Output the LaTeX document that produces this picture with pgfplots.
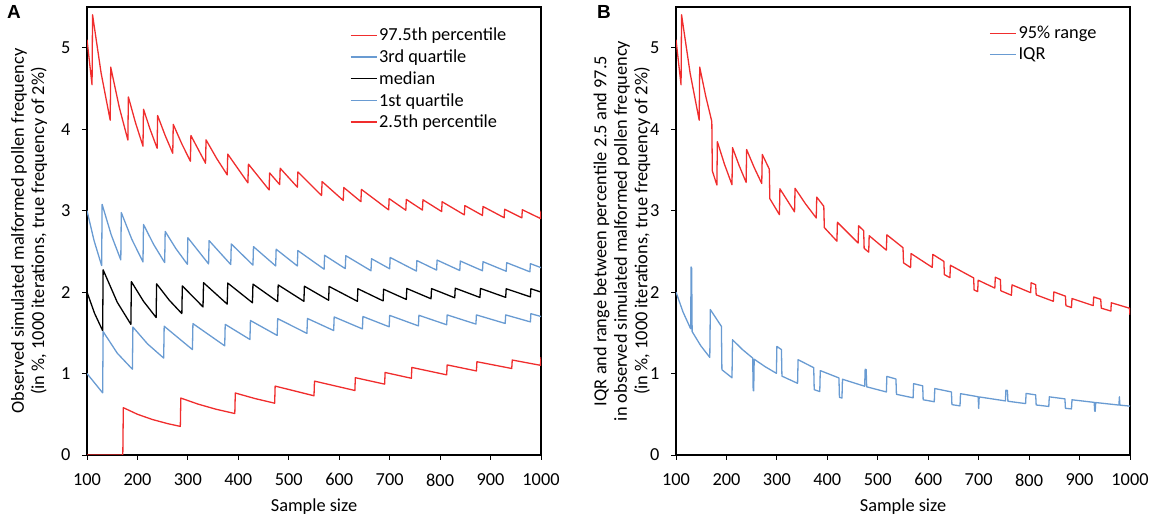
\documentclass[border=0pt]{standalone}
\usepackage{fontspec}
\setmainfont{Carlito}
\newfontfamily\arialfont{Liberation Sans}
\usepackage{pgfplots}
\pgfplotsset{compat=1.18}
\definecolor{myred}{RGB}{240,45,45}
\definecolor{myblue}{RGB}{105,155,210}
\newcommand{\fs}{\fontsize{18.4}{20.5}\selectfont}
\pgfplotsset{
  panel/.style={
    scale only axis, width=454bp, height=448bp,
    xmin=100, xmax=1000, ymin=0, ymax=5.5,
    xtick={100,200,...,1000}, ytick={0,1,2,3,4,5},
    tick align=outside, xtick pos=bottom, ytick pos=left,
    major tick length=5bp,
    tick style={black, line width=1bp},
    axis line style={black, line width=1.3bp},
    tick label style={font=\fs},
    xticklabel style={yshift=-10bp},
    yticklabel style={xshift=-8bp},
    label style={font=\fs},
    xlabel style={at={(axis description cs:0.5,-0.116)}, anchor=center},
    /pgf/number format/assume math mode=true,
    /pgf/number format/1000 sep={},
    xlabel={Sample size},
    legend style={draw=none, fill=none, font=\fs, anchor=north west, row sep=3.5bp, legend cell align=left},
    legend image code/.code={\draw[##1] (0bp,0bp) -- (26bp,0bp);},
    every axis plot/.append style={line width=1.3bp, line join=round},
  }
}
\begin{document}
\begin{tikzpicture}
\useasboundingbox (0,0) rectangle (1154bp,521bp);
\node[font=\arialfont\bfseries\fontsize{19}{20}\selectfont] at (14bp,509bp) {A};
\node[font=\arialfont\bfseries\fontsize{19}{20}\selectfont] at (604bp,509bp) {B};
\begin{axis}[panel, at={(87bp,66bp)}, anchor=south west,
  ylabel={Observed simulated malformed pollen frequency\\(in \%, 1000 iterations, true frequency of 2\%)},
  ylabel style={align=center, at={(axis description cs:-0.08,0.5)}, anchor=south},
  legend style={at={(0.572,0.962)}}]
\addplot[myred] coordinates {(100,5.1) (110,4.545) (111,5.405) (128,4.688) (146,4.110) (147,4.762) (164,4.268) (181,3.867) (182,4.396) (196,4.082) (211,3.791) (212,4.245) (225,4.000) (239,3.766) (240,4.167) (255,3.922) (270,3.704) (271,4.059) (288,3.819) (305,3.607) (306,3.922) (335,3.582) (336,3.869) (357,3.641) (378,3.439) (379,3.694) (419,3.341) (420,3.571) (461,3.254) (462,3.463) (482,3.320) (483,3.520) (517,3.288) (518,3.475) (565,3.186) (566,3.357) (608,3.125) (609,3.284) (643,3.110) (644,3.261) (698,3.009) (699,3.147) (732,3.005) (733,3.138) (765,3.007) (766,3.133) (803,2.989) (804,3.109) (848,2.948) (849,3.062) (884,2.941) (885,3.051) (927,2.913) (928,3.017) (962,2.911) (963,3.011) (999,2.903) (1000,3.0)};
\addlegendentry{97.5th percentile}
\addplot[myblue] coordinates {(100,3.000) (114,2.632) (129,2.326) (130,3.077) (148,2.703) (167,2.395) (168,2.976) (189,2.646) (211,2.370) (212,2.830) (232,2.586) (254,2.362) (255,2.745) (276,2.536) (299,2.341) (300,2.667) (341,2.346) (342,2.632) (385,2.338) (386,2.591) (429,2.331) (430,2.558) (474,2.321) (475,2.526) (517,2.321) (518,2.510) (570,2.281) (571,2.452) (612,2.288) (613,2.447) (663,2.262) (664,2.410) (700,2.286) (701,2.425) (753,2.258) (754,2.387) (793,2.270) (794,2.393) (839,2.265) (840,2.381) (884,2.262) (885,2.373) (931,2.256) (932,2.361) (978,2.249) (979,2.349) (1000,2.300)};
\addlegendentry{3rd quartile}
\addplot[black] coordinates {(100,2.000) (115,1.739) (131,1.527) (132,2.273) (160,1.875) (187,1.604) (188,2.128) (212,1.887) (237,1.688) (238,2.101) (263,1.901) (288,1.736) (289,2.076) (330,1.818) (331,2.115) (378,1.852) (379,2.111) (428,1.869) (429,2.098) (478,1.883) (479,2.088) (530,1.887) (531,2.072) (579,1.900) (580,2.069) (636,1.887) (637,2.041) (687,1.892) (688,2.035) (733,1.910) (734,2.044) (782,1.918) (783,2.043) (829,1.930) (830,2.048) (879,1.934) (880,2.045) (930,1.935) (931,2.041) (979,1.941) (980,2.041) (1000,2.000)};
\addlegendentry{median}
\addplot[myblue] coordinates {(100,1.000) (131,0.763) (132,1.515) (160,1.250) (190,1.053) (191,1.571) (220,1.364) (252,1.190) (253,1.581) (309,1.294) (310,1.613) (373,1.340) (374,1.604) (423,1.418) (424,1.651) (477,1.468) (478,1.674) (536,1.493) (537,1.676) (589,1.528) (590,1.695) (646,1.548) (647,1.700) (699,1.574) (700,1.714) (757,1.585) (758,1.715) (813,1.599) (814,1.720) (871,1.607) (872,1.720) (929,1.615) (930,1.720) (979,1.634) (980,1.735) (1000,1.700)};
\addlegendentry{1st quartile}
\addplot[myred] coordinates {(100,0) (171,0) (172,0.581) (200,0.500) (230,0.435) (260,0.385) (285,0.351) (286,0.699) (320,0.625) (355,0.563) (393,0.509) (394,0.761) (433,0.693) (472,0.636) (473,0.846) (550,0.727) (551,0.907) (631,0.792) (632,0.949) (690,0.870) (691,1.013) (743,0.942) (744,1.075) (813,0.984) (814,1.106) (872,1.032) (873,1.145) (942,1.062) (943,1.166) (999,1.101) (1000,1.200)};
\addlegendentry{2.5th percentile}
\end{axis}
\begin{axis}[panel, at={(676bp,66bp)}, anchor=south west,
  ylabel={IQR and range between percentile 2.5 and 97.5\\in observed simulated malformed pollen frequency\\(in \%, 1000 iterations, true frequency of 2\%)},
  ylabel style={align=center, at={(axis description cs:-0.049,0.5)}, anchor=south},
  legend style={at={(0.683,0.966)}}]
\addplot[myred] coordinates {(100,5.1) (110,4.545) (111,5.405) (128,4.688) (146,4.110) (147,4.762) (159,4.403) (171,4.094) (172,3.488) (181,3.315) (182,3.846) (196,3.571) (211,3.318) (212,3.774) (225,3.556) (239,3.347) (240,3.750) (255,3.529) (270,3.333) (271,3.690) (285,3.509) (286,3.147) (305,2.951) (306,3.268) (335,2.985) (336,3.274) (357,3.081) (378,2.910) (379,3.166) (393,3.053) (394,2.792) (419,2.625) (420,2.857) (461,2.603) (462,2.814) (472,2.754) (473,2.537) (482,2.490) (483,2.692) (517,2.515) (518,2.703) (550,2.545) (551,2.359) (565,2.301) (566,2.473) (608,2.303) (609,2.463) (631,2.377) (632,2.215) (643,2.177) (644,2.329) (690,2.174) (691,2.026) (698,2.006) (699,2.146) (732,2.049) (733,2.183) (743,2.153) (744,2.016) (765,1.961) (766,2.089) (803,1.993) (804,2.114) (813,2.091) (814,1.966) (848,1.887) (849,2.002) (872,1.950) (873,1.833) (884,1.810) (885,1.921) (927,1.834) (928,1.940) (942,1.911) (943,1.803) (962,1.767) (963,1.869) (999,1.802) (1000,1.72)};
\addlegendentry{95\% range}
\addplot[myblue] coordinates {(100,2.000) (114,1.754) (129,1.550) (130,2.308) (131,2.290) (132,1.515) (149,1.342) (167,1.198) (168,1.786) (190,1.579) (191,1.047) (211,0.948) (212,1.415) (232,1.293) (252,1.190) (253,0.791) (254,0.787) (255,1.176) (277,1.083) (299,1.003) (300,1.333) (309,1.294) (310,0.968) (341,0.880) (342,1.170) (373,1.072) (374,0.802) (385,0.779) (386,1.036) (423,0.946) (424,0.708) (429,0.699) (430,0.930) (474,0.844) (475,1.053) (477,1.048) (478,0.837) (517,0.774) (518,0.965) (536,0.933) (537,0.745) (570,0.702) (571,0.876) (589,0.849) (590,0.678) (612,0.654) (613,0.816) (646,0.774) (647,0.618) (663,0.603) (664,0.753) (699,0.715) (700,0.571) (701,0.713) (753,0.664) (754,0.796) (757,0.793) (758,0.660) (793,0.631) (794,0.756) (813,0.738) (814,0.614) (839,0.596) (840,0.714) (871,0.689) (872,0.573) (884,0.566) (885,0.678) (929,0.646) (930,0.538) (931,0.537) (932,0.644) (978,0.613) (979,0.715) (980,0.612) (1000,0.600)};
\addlegendentry{IQR}
\end{axis}
\end{tikzpicture}
\end{document}
